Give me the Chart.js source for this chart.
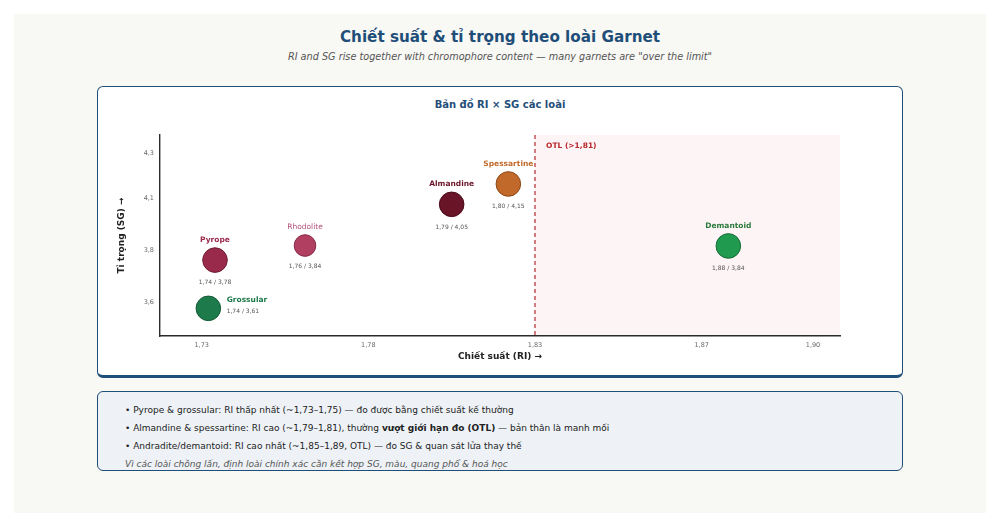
<!DOCTYPE html>
<html>
<head>
<meta charset="utf-8">
<script src="https://cdn.jsdelivr.net/npm/chart.js@4.4.1/dist/chart.umd.min.js"></script>
<style>
  html, body { margin:0; padding:0; }
  body { width:1000px; height:527px; position:relative; background:#ffffff; font-family:"DejaVu Sans", sans-serif; overflow:hidden; }
  #bg { position:absolute; left:14px; top:14px; width:972px; height:499px; background:#f8f8f4; }
  #title { position:absolute; left:0; top:26px; width:1000px; text-align:center; font-weight:bold; font-size:15.2px; line-height:22px; color:#1f4e79; }
  #subtitle { position:absolute; left:0; top:50px; width:1000px; text-align:center; font-style:italic; font-size:9.7px; line-height:14px; color:#555; }
  #card { position:absolute; left:97px; top:86px; width:806px; height:292px; box-sizing:border-box; background:#fff; border:1px solid #1f4e79; border-bottom:3px solid #1f4e79; border-radius:6px; }
  #cardTitle { position:absolute; left:97px; top:98px; width:806px; text-align:center; font-weight:bold; font-size:10px; line-height:14px; color:#1f4e79; }
  #wrap { position:absolute; left:97px; top:120px; width:806px; height:250px; }
  #notes { position:absolute; left:97px; top:391px; width:806px; height:80px; box-sizing:border-box; background:#eef2f7; border:1px solid #1f4e79; border-radius:6px; font-size:9px; color:#222; }
  .ln { position:absolute; left:27px; line-height:12px; white-space:nowrap; }
  .it { font-style:italic; color:#555; left:27px; }
</style>
</head>
<body>
<div id="bg"></div>
<div id="title">Chiết suất &amp; tỉ trọng theo loài Garnet</div>
<div id="subtitle">RI and SG rise together with chromophore content — many garnets are "over the limit"</div>
<div id="card"></div>
<div id="cardTitle">Bản đồ RI × SG các loài</div>
<div id="wrap"><canvas id="c" width="806" height="250"></canvas></div>
<div id="notes">
  <div class="ln" style="top:12px">• Pyrope &amp; grossular: RI thấp nhất (~1,73–1,75) — đo được bằng chiết suất kế thường</div>
  <div class="ln" style="top:30px">• Almandine &amp; spessartine: RI cao (~1,79–1,81), thường <b>vượt giới hạn đo (OTL)</b> — bản thân là manh mối</div>
  <div class="ln" style="top:48px">• Andradite/demantoid: RI cao nhất (~1,85–1,89, OTL) — đo SG &amp; quan sát lửa thay thế</div>
  <div class="ln it" style="top:66px">Vì các loài chồng lấn, định loài chính xác cần kết hợp SG, màu, quang phổ &amp; hoá học</div>
</div>
<script>
// ---- data ----
const species   = ["Pyrope", "Grossular", "Rhodolite", "Almandine", "Spessartine", "Demantoid"];
const riPlot    = [1.734, 1.732, 1.761, 1.805, 1.822, 1.888];   // plotted RI position
const sgPlot    = [3.803, 3.571, 3.873, 4.071, 4.169, 3.871];   // plotted SG position
const riLabel   = [1.74, 1.74, 1.76, 1.79, 1.80, 1.88];         // printed RI values
const sgLabel   = [3.78, 3.61, 3.84, 4.05, 4.15, 3.84];         // printed SG values
const fillColors   = ["#9a2a4b", "#1d7a4a", "#b03f62", "#6a1428", "#c0692a", "#1f9a4e"];
const borderColors = ["#6e1a33", "#135a34", "#87284a", "#48091a", "#8c4718", "#146d37"];
const nameColors   = ["#9a2a4b", "#1d7a4a", "#b0507a", "#6a1428", "#c0692a", "#2a7a3a"];
const pointRadii   = [12.3, 12.3, 10.8, 12.3, 12.3, 12.3];
const labelSide    = ["top", "right", "top", "top", "top", "top"];
const xTickValues  = [1.73, 1.78, 1.83, 1.88, 1.9134];
const xTickLabels  = ["1,73", "1,78", "1,83", "1,87", "1,90"];
const yTickValues  = [3.6, 3.85, 4.1, 4.316];
const yTickLabels  = ["3,6", "3,8", "4,1", "4,3"];
const otlValue = 1.83;
const otlLabel = "OTL (>1,81)";

const fmt = v => v.toFixed(2).replace(".", ",");

const otlPlugin = {
  id: "otl",
  beforeDraw(chart) {
    const { ctx, chartArea: { top, bottom, right }, scales: { x } } = chart;
    const px = x.getPixelForValue(otlValue);
    ctx.save();
    ctx.fillStyle = "#fdf4f5";
    ctx.fillRect(px, top, right - px, bottom - top);
    ctx.strokeStyle = "#b8262b";
    ctx.lineWidth = 1.2;
    ctx.setLineDash([4, 3]);
    ctx.beginPath();
    ctx.moveTo(px, top);
    ctx.lineTo(px, bottom);
    ctx.stroke();
    ctx.setLineDash([]);
    ctx.fillStyle = "#b8262b";
    ctx.font = 'bold 7.5px "DejaVu Sans"';
    ctx.textAlign = "left";
    ctx.textBaseline = "middle";
    ctx.fillText(otlLabel, px + 11, top + 11);
    ctx.restore();
  }
};

const labelPlugin = {
  id: "ptlabels",
  afterDatasetsDraw(chart) {
    const { ctx } = chart;
    const meta = chart.getDatasetMeta(0);
    ctx.save();
    ctx.textBaseline = "middle";
    meta.data.forEach((el, i) => {
      const { x, y } = el.getProps(["x", "y"], true);
      const r = pointRadii[i];
      const val = fmt(riLabel[i]) + " / " + fmt(sgLabel[i]);
      if (labelSide[i] === "right") {
        ctx.textAlign = "left";
        ctx.fillStyle = nameColors[i];
        ctx.font = 'bold 7.5px "DejaVu Sans"';
        ctx.fillText(species[i], x + r + 6, y - 8.3);
        ctx.fillStyle = "#555";
        ctx.font = '6px "DejaVu Sans"';
        ctx.fillText(val, x + r + 6, y + 3.4);
      } else {
        ctx.textAlign = "center";
        ctx.fillStyle = nameColors[i];
        ctx.font = (i === 2 ? '' : 'bold ') + '7.5px "DejaVu Sans"';
        ctx.fillText(species[i], x, y - r - 7.8);
        ctx.fillStyle = "#555";
        ctx.font = '6px "DejaVu Sans"';
        ctx.fillText(val, x, y + r + 10.5);
      }
    });
    ctx.restore();
  }
};

new Chart(document.getElementById("c"), {
  type: "scatter",
  data: {
    datasets: [{
      data: riPlot.map((v, i) => ({ x: v, y: sgPlot[i] })),
      backgroundColor: fillColors,
      borderColor: borderColors,
      borderWidth: 1,
      pointRadius: pointRadii,
      pointHoverRadius: pointRadii
    }]
  },
  options: {
    responsive: false,
    animation: false,
    events: [],
    layout: { padding: { left: 0, right: 63, top: 15, bottom: 0 } },
    plugins: { legend: { display: false }, tooltip: { enabled: false }, title: { display: false } },
    scales: {
      x: {
        type: "linear",
        min: 1.7175,
        max: 1.9215,
        afterFit: s => { s.height = 34; },
        afterBuildTicks: s => { s.ticks = xTickValues.map(v => ({ value: v })); },
        grid: { display: false, drawTicks: false },
        border: { display: true, color: "#2b2b2b", width: 1.4 },
        ticks: { padding: 5, color: "#666", font: { family: "DejaVu Sans", size: 6.5 }, callback: (v, i) => xTickLabels[i] },
        title: { display: true, text: "Chiết suất (RI) →", color: "#222", font: { family: "DejaVu Sans", size: 9, weight: "bold" }, padding: { top: 0, bottom: 8 } }
      },
      y: {
        type: "linear",
        min: 3.438,
        max: 4.4043,
        afterFit: s => { s.width = 63; },
        afterBuildTicks: s => { s.ticks = yTickValues.map(v => ({ value: v })); },
        grid: { display: false, drawTicks: false },
        border: { display: true, color: "#2b2b2b", width: 1.4 },
        ticks: { padding: 6, color: "#666", font: { family: "DejaVu Sans", size: 6.5 }, callback: (v, i) => yTickLabels[i] },
        title: { display: true, text: "Tỉ trọng (SG) →", color: "#222", font: { family: "DejaVu Sans", size: 9, weight: "bold" }, padding: { top: 19, bottom: 0 } }
      }
    }
  },
  plugins: [otlPlugin, labelPlugin]
});
</script>
</body>
</html>
